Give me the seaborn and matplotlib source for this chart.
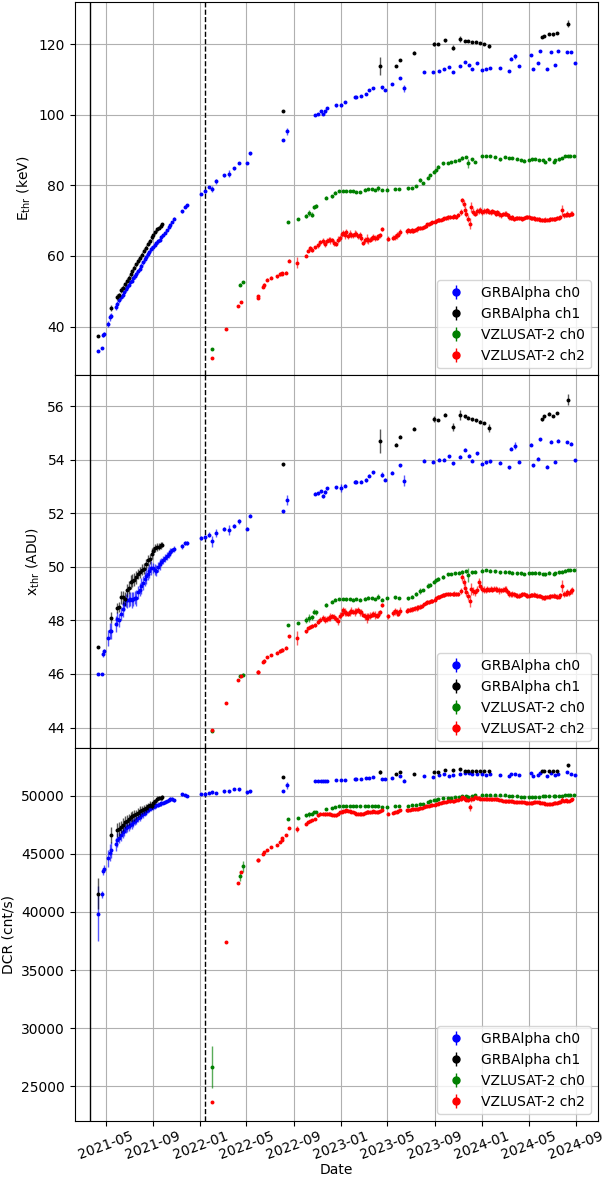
import matplotlib
matplotlib.use("Agg")
import matplotlib.pyplot as plt
import matplotlib.dates as mdates
from matplotlib.ticker import MultipleLocator
import pandas as pd
import seaborn as sns

# ---------------- data ----------------
labels = ["GRBAlpha ch0", "GRBAlpha ch1", "VZLUSAT-2 ch0", "VZLUSAT-2 ch2"]
colors = ["blue", "black", "green", "red"]
ylabels = [r"E$_{\mathrm{thr}}$ (keV)", r"x$_{\mathrm{thr}}$ (ADU)", "DCR (cnt/s)"]
launch_grbalpha = "2021-03-22"
launch_vzlusat2 = "2022-01-13"

ga0_dates = ["2021-04-12","2021-04-22","2021-04-25","2021-04-27","2021-05-08","2021-05-12","2021-05-16","2021-05-29","2021-05-31","2021-06-05",
"2021-06-09","2021-06-14","2021-06-18","2021-06-22","2021-06-26","2021-06-30","2021-07-04","2021-07-08","2021-07-12","2021-07-16",
"2021-07-20","2021-07-25","2021-07-29","2021-08-02","2021-08-06","2021-08-10","2021-08-14","2021-08-18","2021-08-22","2021-08-27",
"2021-09-01","2021-09-05","2021-09-09","2021-09-13","2021-09-18","2021-09-22","2021-09-26","2021-10-01","2021-10-06","2021-10-11",
"2021-10-16","2021-10-21","2021-10-25","2021-11-16","2021-11-22","2021-11-28","2022-01-04","2022-01-14","2022-01-24","2022-01-31",
"2022-02-12","2022-03-03","2022-03-16","2022-03-30","2022-04-11","2022-05-02","2022-05-11","2022-08-04","2022-08-14","2022-10-25",
"2022-11-03","2022-11-09","2022-11-15","2022-11-20","2022-11-26","2022-12-20","2023-01-01","2023-01-11","2023-02-05","2023-02-10",
"2023-02-23","2023-03-06","2023-03-15","2023-03-24","2023-04-16","2023-04-25","2023-05-12","2023-06-04","2023-06-12","2023-08-03",
"2023-08-27","2023-09-11","2023-09-24","2023-10-07","2023-10-17","2023-11-06","2023-11-18","2023-11-29","2023-12-07","2023-12-19",
"2024-01-01","2024-01-12","2024-01-21","2024-02-16","2024-03-10","2024-03-17","2024-03-26","2024-04-06","2024-05-08","2024-05-12",
"2024-05-24","2024-05-30","2024-06-18","2024-06-27","2024-07-08","2024-07-17","2024-08-09","2024-08-20","2024-08-29"]
ga0_E = [33.0,34.0,37.6,38.0,40.8,42.6,43.1,45.6,46.4,47.4,
48.3,48.8,49.7,50.6,51.1,51.8,52.6,53.0,53.8,54.2,
54.9,55.6,56.4,57.2,58.2,59.0,59.7,60.5,61.1,61.9,
62.5,63.2,63.6,64.1,64.6,65.3,65.8,66.6,67.2,68.1,
68.7,69.6,70.5,72.6,73.9,74.3,77.6,78.3,79.5,78.9,
81.1,82.8,83.3,84.8,86.3,86.2,89.0,92.9,95.3,99.8,
100.3,100.9,100.3,100.9,102.0,102.6,102.8,103.5,104.9,104.9,
105.2,105.8,106.9,107.6,107.7,106.9,108.6,110.3,107.5,112.0,
112.1,112.5,112.8,113.5,112.1,113.7,115.0,114.1,113.0,114.5,
112.6,112.9,113.3,113.1,112.4,115.9,116.5,113.8,116.8,113.0,
114.5,118.0,113.0,117.8,114.2,117.9,117.8,117.7,114.6]
ga0_Eerr = [0.3,0.3,0.5,0.5,0.9,0.9,0.8,0.8,0.7,0.7,
0.7,0.8,0.7,0.7,0.8,0.7,0.7,0.8,0.7,0.7,
0.8,0.7,0.7,0.8,0.7,0.7,0.8,0.7,0.7,0.8,
0.7,0.6,0.6,0.6,0.6,0.5,0.5,0.5,0.5,0.5,
0.5,0.4,0.4,0.4,0.4,0.4,0.3,0.4,0.4,0.9,
0.7,0.4,0.9,0.4,0.4,0.3,0.3,0.3,1.0,0.3,
0.3,0.3,0.3,0.3,0.3,0.3,0.5,0.3,0.3,0.3,
0.3,0.3,0.3,0.3,0.5,0.3,0.3,0.3,1.0,0.2,
0.2,0.2,0.2,0.3,0.3,0.2,0.3,0.3,0.2,0.2,
0.2,0.2,0.2,0.2,0.2,0.3,0.6,0.2,0.2,0.2,
0.2,0.2,0.2,0.2,0.2,0.2,0.2,0.2,0.2]
ga0_X = [46.0,46.0,46.75,46.85,47.35,47.6,47.6,47.85,48.06,48.0,
48.25,48.43,48.6,48.75,48.77,48.75,48.8,48.78,48.8,48.85,
48.85,49.05,49.15,49.3,49.4,49.55,49.65,49.75,49.85,49.96,
49.96,49.9,49.86,50.0,50.1,50.2,50.25,50.35,50.4,50.5,
50.55,50.62,50.67,50.77,50.9,50.88,51.07,51.11,51.21,50.96,
51.27,51.42,51.38,51.52,51.7,51.42,51.91,52.08,52.5,52.73,
52.75,52.82,52.66,52.8,52.94,52.97,52.95,53.04,53.19,53.19,
53.19,53.25,53.41,53.53,53.45,53.26,53.52,53.79,53.22,53.97,
53.93,54.0,54.0,54.13,53.87,54.12,54.38,54.16,53.97,54.24,
53.85,53.91,53.94,53.89,53.72,54.41,54.53,53.93,54.56,53.79,
54.04,54.77,53.74,54.68,53.93,54.72,54.66,54.6,53.98]
ga0_Xerr = [0.05,0.05,0.1,0.1,0.3,0.3,0.3,0.3,0.25,0.25,
0.25,0.3,0.25,0.25,0.3,0.25,0.25,0.3,0.25,0.25,
0.3,0.25,0.25,0.3,0.25,0.25,0.3,0.25,0.25,0.25,
0.2,0.2,0.2,0.2,0.2,0.15,0.15,0.15,0.15,0.15,
0.15,0.1,0.1,0.1,0.08,0.08,0.08,0.08,0.08,0.2,
0.15,0.08,0.2,0.08,0.08,0.06,0.06,0.06,0.2,0.06,
0.06,0.06,0.08,0.06,0.06,0.06,0.15,0.06,0.06,0.06,
0.06,0.06,0.06,0.06,0.1,0.06,0.06,0.06,0.2,0.05,
0.05,0.05,0.05,0.06,0.06,0.05,0.06,0.06,0.05,0.05,
0.05,0.05,0.05,0.05,0.05,0.06,0.12,0.05,0.05,0.05,
0.05,0.05,0.05,0.05,0.05,0.05,0.05,0.05,0.05]
ga0_D = [39860,41500,43500,43700,44600,45100,45300,45800,46200,46400,
46600,46900,47000,47200,47300,47400,47500,47550,47700,47800,
47900,48050,48160,48300,48400,48550,48650,48750,48880,48950,
49020,49080,49164,49220,49280,49330,49393,49450,49508,49600,
49737,49700,49594,50110,50086,49966,50140,50172,50258,50284,
50258,50370,50370,50567,50541,50284,50370,50395,50885,51228,
51228,51240,51260,51280,51300,51340,51340,51340,51460,51460,
51470,51500,51560,51598,51460,51460,51560,51680,51300,51684,
51598,51800,51890,51700,51750,51890,51950,51950,51900,51850,
51860,51800,51880,51770,51684,51890,51860,51770,51950,51684,
51800,51950,51660,51920,51770,51900,52000,51890,51800]
ga0_Derr = [2400,300,300,300,700,700,700,600,600,500,
500,500,450,450,450,400,400,400,400,350,
350,350,350,300,300,300,300,250,250,250,
250,200,200,200,200,200,150,150,150,150,
150,150,150,100,100,100,100,100,100,150,
100,100,150,100,100,100,100,100,300,80,
80,80,80,80,80,80,100,80,80,80,
80,80,80,80,100,80,80,80,150,80,
80,80,80,80,80,80,80,80,80,80,
80,80,80,80,80,80,100,80,80,80,
80,80,80,80,80,80,80,80,80]

ga1_dates = ["2021-04-12","2021-05-16","2021-05-31","2021-06-05","2021-06-10","2021-06-15","2021-06-20","2021-06-25","2021-06-30","2021-07-05",
"2021-07-09","2021-07-14","2021-07-19","2021-07-24","2021-07-29","2021-08-03","2021-08-08","2021-08-13","2021-08-18","2021-08-23",
"2021-08-28","2021-09-02","2021-09-07","2021-09-12","2021-09-17","2021-09-21","2021-09-25","2022-08-03","2023-04-11","2023-05-23",
"2023-06-04","2023-07-10","2023-08-29","2023-09-08","2023-09-27","2023-10-17","2023-11-04","2023-11-18","2023-11-27","2023-12-06",
"2023-12-17","2023-12-27","2024-01-07","2024-01-19","2024-06-04","2024-06-11","2024-06-24","2024-07-04","2024-07-13","2024-08-10"]
ga1_E = [37.2,45.2,48.3,48.8,50.4,51.0,51.9,53.0,53.7,54.8,
55.6,56.7,57.6,58.6,59.4,60.3,61.4,62.3,63.5,64.2,
65.3,66.0,66.8,67.5,68.0,68.5,68.9,101.1,113.8,113.8,
115.4,117.6,120.1,120.0,121.0,119.0,121.4,120.9,120.8,120.6,
120.5,120.3,120.1,119.4,121.9,122.3,122.8,122.7,123.2,125.7]
ga1_Eerr = [0.3,0.9,0.8,0.8,0.8,0.8,0.8,0.8,0.8,0.8,
0.8,0.8,0.8,0.8,0.8,0.7,0.7,0.7,0.7,0.7,
0.7,0.6,0.6,0.6,0.5,0.5,0.5,0.3,2.5,0.3,
0.3,0.3,0.6,0.3,0.3,0.7,0.9,0.3,0.3,0.3,
0.3,0.3,0.3,0.6,0.3,0.3,0.3,0.3,0.3,1.0]
ga1_X = [47.01,48.1,48.46,48.5,48.86,48.86,48.8,49.12,49.22,49.43,
49.49,49.52,49.61,49.74,49.8,49.89,49.93,50.11,50.24,50.3,
50.5,50.61,50.71,50.73,50.76,50.8,50.83,53.83,54.71,54.57,
54.87,55.17,55.53,55.49,55.69,55.24,55.68,55.62,55.57,55.51,
55.48,55.43,55.38,55.18,55.51,55.62,55.72,55.64,55.75,56.25]
ga1_Xerr = [0.05,0.2,0.2,0.2,0.25,0.25,0.25,0.25,0.25,0.25,
0.25,0.25,0.25,0.2,0.2,0.2,0.2,0.2,0.2,0.2,
0.2,0.15,0.15,0.15,0.12,0.12,0.1,0.05,0.45,0.05,
0.05,0.05,0.12,0.05,0.05,0.15,0.2,0.05,0.05,0.05,
0.05,0.05,0.05,0.15,0.05,0.05,0.05,0.05,0.05,0.2]
ga1_D = [41580,46590,47019,47150,47303,47500,47733,47850,47964,48150,
48250,48300,48394,48550,48677,48750,48883,48950,49081,49227,
49150,49393,49500,49682,49794,49800,49854,51598,52027,51890,
52027,51830,52027,52027,52173,52173,52259,52150,52150,52150,
52150,52150,52150,52100,52150,52100,52150,52100,52150,52603]
ga1_Derr = [1300,700,600,600,550,550,500,500,500,450,
450,450,400,400,400,350,350,350,300,300,
300,250,250,250,200,200,200,80,150,80,
80,80,120,80,80,120,150,80,80,80,
80,80,80,120,80,80,80,80,80,150]

vz0_dates = ["2022-01-31","2022-04-15","2022-04-21","2022-08-16","2022-09-11","2022-10-02","2022-10-11","2022-10-17","2022-10-24","2022-10-27",
"2022-11-24","2022-12-09","2022-12-17","2022-12-26","2023-01-06","2023-01-15","2023-01-23","2023-02-01","2023-02-09","2023-02-18",
"2023-03-05","2023-03-13","2023-03-22","2023-03-30","2023-04-07","2023-04-17","2023-04-29","2023-05-22","2023-06-01","2023-06-24",
"2023-07-04","2023-07-14","2023-07-24","2023-08-02","2023-08-13","2023-08-20","2023-08-29","2023-09-04","2023-09-10","2023-09-23",
"2023-10-04","2023-10-13","2023-10-23","2023-11-03","2023-11-11","2023-11-20","2023-11-27","2023-12-07","2023-12-15","2024-01-01",
"2024-01-12","2024-01-21","2024-02-03","2024-02-16","2024-02-29","2024-03-11","2024-03-20","2024-04-02","2024-04-11","2024-04-20",
"2024-05-01","2024-05-10","2024-05-18","2024-05-27","2024-06-06","2024-06-13","2024-06-22","2024-07-05","2024-07-09","2024-07-18",
"2024-07-26","2024-08-04","2024-08-12","2024-08-17","2024-08-26"]
vz0_E = [33.7,51.8,52.6,69.6,70.4,71.2,72.1,71.7,73.9,74.1,
76.5,76.9,77.9,78.5,78.3,78.3,78.4,78.3,78.2,78.1,
78.8,79.0,78.9,78.7,79.1,78.6,78.8,79.0,79.0,79.1,
79.3,79.8,81.4,80.7,82.2,82.9,83.8,84.3,85.2,86.2,
86.3,86.7,86.8,87.2,87.7,88.0,86.2,87.3,86.6,88.4,
88.3,88.2,88.0,87.3,88.0,87.6,87.7,87.4,87.1,87.0,
87.1,87.3,87.5,87.2,87.1,86.6,87.4,86.6,87.1,87.3,
87.7,88.2,88.3,88.4,88.2]
vz0_Eerr = [0.3,0.4,0.4,0.3,0.3,0.6,0.9,0.6,0.5,0.5,
0.4,0.4,0.4,0.3,0.3,0.3,0.3,0.3,0.3,0.3,
0.3,0.3,0.3,0.3,0.6,0.3,0.3,0.3,0.3,0.3,
0.3,0.4,0.6,0.3,0.5,0.4,0.4,0.4,0.4,0.4,
0.3,0.3,0.3,0.3,0.5,0.3,1.3,0.3,0.3,0.3,
0.3,0.3,0.3,0.3,0.3,0.3,0.3,0.3,0.3,0.3,
0.3,0.3,0.3,0.3,0.3,0.3,0.3,0.3,0.3,0.3,
0.3,0.3,0.3,0.3,0.3]
vz0_X = [43.88,45.92,45.97,47.82,47.92,48.02,48.08,48.12,48.33,48.30,
48.58,48.70,48.78,48.80,48.80,48.79,48.80,48.78,48.80,48.77,
48.81,48.85,48.84,48.80,48.89,48.78,48.84,48.86,48.84,48.82,
48.89,48.99,49.10,49.14,49.30,49.34,49.45,49.50,49.55,49.62,
49.72,49.74,49.76,49.78,49.80,49.84,49.70,49.80,49.82,49.86,
49.89,49.86,49.84,49.80,49.82,49.80,49.78,49.76,49.76,49.74,
49.76,49.77,49.78,49.76,49.74,49.72,49.78,49.74,49.76,49.80,
49.82,49.86,49.88,49.89,49.89]
vz0_Xerr = [0.04,0.05,0.05,0.04,0.04,0.1,0.15,0.1,0.08,0.08,
0.06,0.06,0.06,0.05,0.05,0.05,0.05,0.05,0.05,0.05,
0.05,0.05,0.05,0.05,0.1,0.05,0.05,0.05,0.05,0.05,
0.05,0.06,0.1,0.05,0.08,0.06,0.06,0.06,0.06,0.06,
0.05,0.05,0.05,0.05,0.08,0.05,0.25,0.05,0.05,0.05,
0.05,0.05,0.05,0.05,0.05,0.05,0.05,0.05,0.05,0.05,
0.05,0.05,0.05,0.05,0.05,0.05,0.05,0.05,0.05,0.05,
0.05,0.05,0.05,0.05,0.05]
vz0_D = [26635,43068,43927,47964,48076,48308,48400,48454,48591,48591,
48823,48935,49021,49081,49141,49100,49081,49081,49081,49081,
49141,49141,49110,49081,49081,49050,49021,49081,49141,49141,
49227,49227,49260,49313,49450,49520,49596,49650,49700,49760,
49790,49828,49850,49880,49940,49966,49850,49940,50026,50086,
50086,50086,50086,50050,50026,50000,49966,49940,49900,49880,
49880,49880,49900,49900,49940,49940,49940,49940,49960,49966,
49990,50026,50040,50026,50026]
vz0_Derr = [1800,450,450,100,100,150,200,150,120,120,
80,80,80,80,80,80,80,80,80,80,
80,80,80,80,120,80,80,80,80,80,
80,80,120,80,100,80,80,80,80,80,
80,80,80,80,100,80,200,80,80,80,
80,80,80,80,80,80,80,80,80,80,
80,80,80,80,80,80,80,80,80,80,
80,80,80,80,80]

vz2_dates = ["2022-01-31","2022-03-08","2022-04-10","2022-04-16","2022-05-30","2022-06-01","2022-06-12","2022-06-16","2022-06-23","2022-07-03",
"2022-07-19","2022-07-26","2022-07-31","2022-08-02","2022-08-11","2022-08-19","2022-09-10","2022-10-01","2022-10-07","2022-10-13",
"2022-10-19","2022-10-26","2022-11-02","2022-11-08","2022-11-14","2022-11-20","2022-11-25","2022-11-30","2022-12-04","2022-12-09",
"2022-12-14","2022-12-19","2022-12-24","2022-12-29","2023-01-03","2023-01-07","2023-01-11","2023-01-15","2023-01-19","2023-01-23",
"2023-01-27","2023-02-01","2023-02-05","2023-02-10","2023-02-14","2023-02-18","2023-02-23","2023-02-27","2023-03-04","2023-03-08",
"2023-03-12","2023-03-16","2023-03-21","2023-03-25","2023-03-30","2023-04-03","2023-04-08","2023-04-12","2023-04-16","2023-05-03",
"2023-05-16","2023-05-20","2023-05-25","2023-05-29","2023-06-02","2023-06-20","2023-06-24","2023-06-29","2023-07-03","2023-07-07",
"2023-07-11","2023-07-16","2023-07-20","2023-07-24","2023-07-29","2023-08-04","2023-08-08","2023-08-12","2023-08-16","2023-08-21",
"2023-08-25","2023-09-01","2023-09-05","2023-09-08","2023-09-13","2023-09-17","2023-09-21","2023-09-25","2023-09-30","2023-10-04",
"2023-10-10","2023-10-17","2023-10-21","2023-10-26","2023-11-01","2023-11-07","2023-11-11","2023-11-15","2023-11-19","2023-11-22",
"2023-11-27","2023-11-30","2023-12-03","2023-12-08","2023-12-15","2023-12-20","2023-12-24","2023-12-28","2024-01-02","2024-01-06",
"2024-01-11","2024-01-15","2024-01-20","2024-01-24","2024-01-28","2024-02-02","2024-02-06","2024-02-10","2024-02-15","2024-02-19",
"2024-02-24","2024-02-29","2024-03-04","2024-03-08","2024-03-12","2024-03-16","2024-03-20","2024-03-24","2024-03-29","2024-04-02",
"2024-04-06","2024-04-10","2024-04-15","2024-04-19","2024-04-24","2024-04-28","2024-05-02","2024-05-06","2024-05-10","2024-05-14",
"2024-05-18","2024-05-23","2024-05-27","2024-05-31","2024-06-05","2024-06-09","2024-06-13","2024-06-18","2024-06-22","2024-06-26",
"2024-07-01","2024-07-05","2024-07-09","2024-07-14","2024-07-18","2024-07-22","2024-07-26","2024-07-31","2024-08-05","2024-08-09",
"2024-08-14","2024-08-18","2024-08-22"]
vz2_E = [31.1,39.2,45.9,46.9,48.1,48.6,51.3,51.8,53.2,53.8,
54.2,54.8,55.0,55.1,55.2,58.6,58.1,60.1,61.5,62.1,
61.8,62.4,63.0,63.9,64.3,63.5,64.3,64.6,64.4,64.5,
63.6,63.5,64.6,65.0,66.1,66.5,65.8,66.7,65.6,66.3,
66.0,65.8,66.3,66.3,65.5,66.0,65.0,63.7,64.5,64.9,
64.4,64.6,65.0,65.4,65.0,65.2,65.5,65.8,67.6,64.9,
65.2,65.4,65.8,66.0,66.8,67.0,67.3,67.1,67.3,67.1,
67.4,67.5,67.8,67.8,68.0,68.2,68.5,68.9,69.0,69.3,
69.5,69.7,69.9,70.1,70.2,70.3,70.5,70.6,70.8,70.9,
71.0,71.1,71.2,71.0,71.5,72.5,75.7,74.8,73.0,72.0,
70.5,69.1,73.8,72.5,72.0,72.6,72.8,73.1,72.4,72.8,
72.6,72.9,72.5,72.3,72.7,72.5,72.0,72.4,71.8,71.5,
71.8,72.0,72.0,71.5,71.0,70.8,71.0,70.5,70.6,70.8,
70.8,70.6,70.5,70.7,70.9,71.0,71.0,70.8,70.6,70.8,
70.4,70.5,70.5,70.3,70.1,70.1,70.3,70.3,70.3,70.4,
70.5,70.5,70.5,70.7,70.8,71.0,72.9,71.5,71.5,71.8,
71.5,72.0,72.0]
vz2_Eerr = [0.3,0.3,0.3,0.3,0.4,0.4,0.4,0.5,0.4,0.4,
0.4,0.5,0.4,0.4,0.4,0.4,1.5,0.5,0.5,0.6,
0.6,0.5,0.7,0.7,0.8,0.9,0.7,0.8,0.9,0.7,
0.8,0.7,0.9,0.8,0.7,0.8,1.0,0.8,0.7,0.9,
0.8,0.7,0.9,0.8,0.7,0.8,0.7,0.6,0.8,1.2,
0.9,0.8,0.7,0.8,0.9,0.7,0.8,0.7,0.5,0.6,
0.7,0.8,0.9,0.7,0.8,0.7,0.6,0.6,0.7,0.6,
0.6,0.7,0.6,0.6,0.5,0.5,0.5,0.5,0.5,0.5,
0.5,0.5,0.5,0.5,0.5,0.5,0.5,0.5,0.5,0.6,
0.5,0.6,0.6,0.5,0.6,0.8,0.8,1.0,1.2,1.0,
1.0,1.5,1.5,1.0,0.8,0.9,0.8,0.8,0.7,0.8,
0.7,0.8,0.7,0.6,0.7,0.6,0.7,0.6,0.8,0.7,
0.6,0.7,0.8,0.6,0.7,0.6,0.7,0.6,0.5,0.6,
0.6,0.5,0.6,0.6,0.5,0.6,0.5,0.6,0.5,0.6,
0.5,0.6,0.5,0.5,0.6,0.5,0.6,0.5,0.5,0.6,
0.5,0.6,0.5,0.6,0.5,0.6,1.5,0.7,0.6,0.8,
0.6,0.7,0.8]
vz2_X = [43.89,44.92,45.76,45.91,46.06,46.09,46.46,46.50,46.63,46.71,
46.79,46.86,46.90,46.90,46.98,47.40,47.35,47.60,47.71,47.75,
47.80,47.84,47.95,48.03,48.10,48.03,48.06,48.10,48.13,48.15,
48.12,48.05,47.97,48.18,48.25,48.39,48.30,48.28,48.25,48.30,
48.37,48.33,48.31,48.35,48.39,48.30,48.33,48.20,48.15,48.10,
48.15,48.18,48.22,48.25,48.20,48.18,48.22,48.30,48.59,48.15,
48.28,48.34,48.30,48.25,48.37,48.36,48.39,48.40,48.42,48.43,
48.45,48.47,48.49,48.52,48.55,48.60,48.64,48.68,48.70,48.72,
48.74,48.78,48.82,48.87,48.88,48.93,48.94,48.95,48.97,48.99,
48.98,48.99,49.00,48.98,48.99,49.10,49.61,49.43,49.20,49.05,
48.90,48.74,49.18,49.10,49.05,49.15,49.45,49.30,49.18,49.15,
49.12,49.18,49.15,49.18,49.15,49.18,49.18,49.15,49.12,49.12,
49.15,49.18,49.15,49.05,48.99,48.98,48.99,48.97,48.95,48.93,
48.93,48.96,48.99,48.99,48.95,48.93,48.93,48.95,48.96,48.96,
48.94,48.93,48.93,48.90,48.86,48.84,48.86,48.89,48.89,48.90,
48.93,48.93,48.91,48.89,48.89,48.95,49.30,48.99,48.99,49.05,
49.02,49.10,49.12]
vz2_Xerr = [0.04,0.04,0.04,0.04,0.05,0.05,0.05,0.06,0.05,0.05,
0.05,0.06,0.05,0.05,0.05,0.05,0.25,0.06,0.06,0.08,
0.08,0.07,0.1,0.1,0.12,0.14,0.1,0.12,0.14,0.1,
0.12,0.1,0.14,0.12,0.1,0.12,0.15,0.12,0.1,0.14,
0.12,0.1,0.14,0.12,0.1,0.12,0.1,0.09,0.12,0.18,
0.14,0.12,0.1,0.12,0.14,0.1,0.12,0.1,0.07,0.09,
0.1,0.12,0.14,0.1,0.12,0.1,0.09,0.09,0.1,0.09,
0.09,0.1,0.09,0.09,0.07,0.07,0.07,0.07,0.07,0.07,
0.07,0.07,0.07,0.07,0.07,0.07,0.07,0.07,0.07,0.09,
0.07,0.09,0.09,0.07,0.09,0.12,0.12,0.15,0.18,0.15,
0.15,0.22,0.22,0.15,0.12,0.13,0.12,0.12,0.1,0.12,
0.1,0.12,0.1,0.09,0.1,0.09,0.1,0.09,0.12,0.1,
0.09,0.1,0.12,0.09,0.1,0.09,0.1,0.09,0.07,0.09,
0.09,0.07,0.09,0.09,0.07,0.09,0.07,0.09,0.07,0.09,
0.07,0.09,0.07,0.07,0.09,0.07,0.09,0.07,0.07,0.09,
0.07,0.09,0.07,0.09,0.07,0.09,0.22,0.1,0.09,0.12,
0.09,0.1,0.12]
vz2_D = [23629,37424,42493,43437,44442,44502,45018,45155,45327,45559,
45791,46014,46220,46358,46650,47251,47105,47595,47733,47800,
47880,47964,48300,48454,48454,48420,48454,48454,48400,48368,
48330,48308,48450,48591,48620,48651,48700,48737,48700,48651,
48620,48591,48540,48454,48454,48454,48454,48454,48520,48591,
48591,48591,48620,48651,48620,48591,48620,48651,48737,48454,
48540,48591,48620,48650,48737,48737,48737,48780,48823,48823,
48823,48850,48883,48900,48935,49000,49081,49120,49150,49167,
49200,49227,49280,49313,49360,49399,49420,49450,49480,49510,
49510,49510,49560,49596,49656,49700,49880,49800,49742,49650,
49596,49021,49700,49742,49880,49800,49800,49742,49742,49742,
49742,49720,49700,49690,49682,49682,49682,49682,49650,49596,
49560,49530,49510,49510,49510,49510,49510,49480,49450,49450,
49450,49450,49450,49420,49399,49399,49399,49399,49399,49420,
49450,49450,49420,49399,49399,49350,49300,49253,49280,49300,
49313,49350,49399,49399,49420,49450,49596,49550,49596,49510,
49560,49620,49682]
vz2_Derr = [80,80,80,80,80,80,80,80,80,80,
80,80,80,80,80,80,250,100,100,100,
100,100,120,120,130,140,120,130,140,120,
130,120,140,130,120,130,150,130,120,140,
130,120,140,130,120,130,120,110,130,160,
140,130,120,130,140,120,130,120,100,110,
120,130,140,120,130,120,110,110,120,110,
110,120,110,110,100,100,100,100,100,100,
100,100,100,100,100,100,100,100,100,110,
100,110,110,100,110,130,130,150,170,150,
150,300,250,150,130,140,130,130,120,130,
120,130,120,110,120,110,120,110,130,120,
110,120,130,110,120,110,120,110,100,110,
110,100,110,110,100,110,100,110,100,110,
100,110,100,100,110,100,110,100,100,110,
100,110,100,110,100,110,250,120,110,130,
110,120,130]

series = [
    (labels[0], colors[0], ga0_dates, [ga0_E, ga0_X, ga0_D], [ga0_Eerr, ga0_Xerr, ga0_Derr]),
    (labels[1], colors[1], ga1_dates, [ga1_E, ga1_X, ga1_D], [ga1_Eerr, ga1_Xerr, ga1_Derr]),
    (labels[2], colors[2], vz0_dates, [vz0_E, vz0_X, vz0_D], [vz0_Eerr, vz0_Xerr, vz0_Derr]),
    (labels[3], colors[3], vz2_dates, [vz2_E, vz2_X, vz2_D], [vz2_Eerr, vz2_Xerr, vz2_Derr]),
]

# ---------------- style ----------------
sns.set_style("ticks")
plt.rcParams.update({
    "font.family": ["DejaVu Sans"],
    "axes.edgecolor": "black", "axes.labelcolor": "black", "text.color": "black",
    "xtick.color": "black", "ytick.color": "black",
    "axes.linewidth": 0.8, "font.size": 10,
    "xtick.labelsize": 10, "ytick.labelsize": 10, "axes.labelsize": 10,
    "legend.fontsize": 10,
})

fig, axes = plt.subplots(3, 1, figsize=(6.04, 11.8), dpi=100, sharex=True)
fig.subplots_adjust(left=0.1237, right=0.9896, top=0.998, bottom=0.05, hspace=0)

ylims = [(26.2, 131.8), (43.23, 57.16), (22019, 54089)]
ymaj = [20, 2, 5000]

for i, ax in enumerate(axes):
    handles = []
    for k, (lab, col, dts, vals, errs) in enumerate(series):
        df = pd.DataFrame({"date": pd.to_datetime(dts), "v": vals[i], "e": errs[i]})
        ax.errorbar(df["date"], df["v"], yerr=df["e"], fmt="none", ecolor=col,
                    elinewidth=1.0, alpha=0.65, zorder=2 + 2 * k)
        sns.scatterplot(data=df, x="date", y="v", color=col, s=8, linewidth=0,
                        ax=ax, legend=False, zorder=3 + 2 * k)
        h = ax.errorbar([], [], yerr=[], fmt="o", color=col, ms=5, elinewidth=1.0, label=lab)
        handles.append(h)
    ax.axvline(pd.Timestamp(launch_grbalpha), color="black", lw=1.0, zorder=1)
    ax.axvline(pd.Timestamp(launch_vzlusat2), color="black", lw=1.0, ls="--", zorder=1)
    ax.grid(True, color="#b0b0b0", lw=0.8)
    ax.set_axisbelow(True)
    ax.set_ylim(*ylims[i])
    ax.yaxis.set_major_locator(MultipleLocator(ymaj[i]))
    ax.set_ylabel(ylabels[i])
    ax.set_xlabel("")
    ax.legend(handles=handles, loc="lower right")

axes[2].set_xlim(pd.Timestamp("2021-02-10"), pd.Timestamp("2024-10-27"))
axes[2].xaxis.set_major_locator(mdates.MonthLocator(bymonth=[1, 5, 9]))
axes[2].xaxis.set_major_formatter(mdates.DateFormatter("%Y-%m"))
axes[2].tick_params(axis="x", labelrotation=20, pad=2)
axes[2].set_xlabel("Date", labelpad=1)

fig.savefig("out.png", dpi=100)
